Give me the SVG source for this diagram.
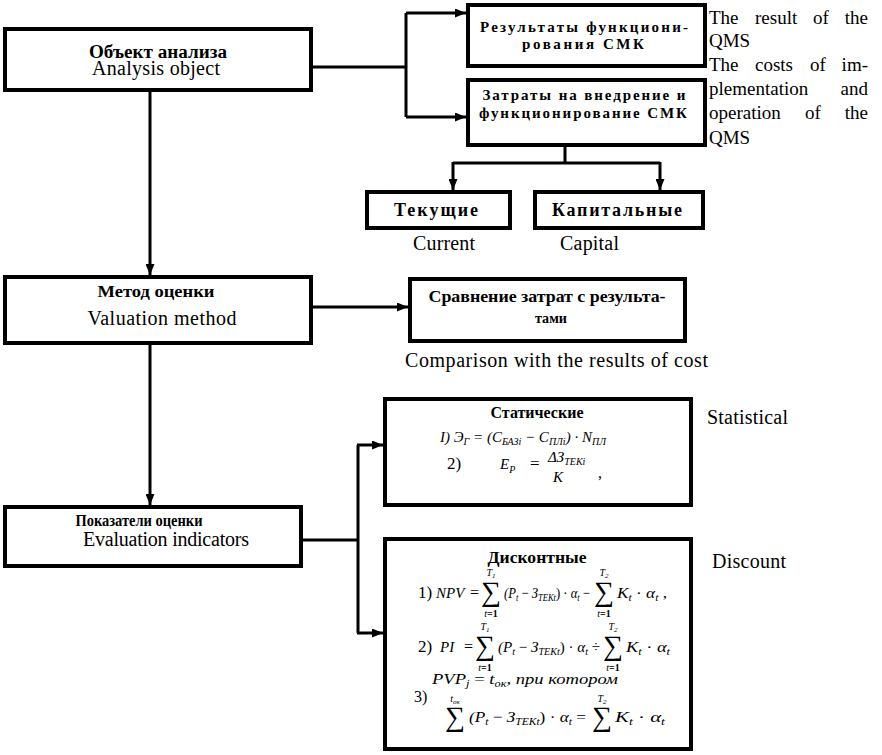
<svg xmlns="http://www.w3.org/2000/svg" width="882" height="755" viewBox="0 0 882 755">
<defs>
<marker id="ah" markerUnits="userSpaceOnUse" markerWidth="11" markerHeight="9" refX="11" refY="4.5" orient="auto"><path d="M0,0 L11,4.5 L0,9 z" fill="#000"/></marker>
</defs>
<style>
.box{fill:#fff;stroke:#000;stroke-width:4}
.ln{fill:none;stroke:#000;stroke-width:3}
.ar{fill:none;stroke:#000;stroke-width:3;marker-end:url(#ah)}
text{font-family:"Liberation Serif","Times New Roman",serif;fill:#000}
.b{font-weight:bold}
.i{font-style:italic}
.s{font-size:10px}
.en{font-size:20px}
.ann{font-size:19px}
.f{font-size:15px;font-style:italic}
.n{font-style:normal}
.sig{font-size:28px;font-style:normal}
.lim{font-size:10px;font-style:italic}
</style>
<rect width="882" height="755" fill="#fff"/>
<g id="connectors">
<path class="ln" d="M311,67 H406 M406,13 V117"/>
<path class="ar" d="M406,13 H466"/>
<path class="ar" d="M406,117 H466"/>
<path class="ln" d="M565,147 V163 M453,163 H660"/>
<path class="ar" d="M453,162 V190"/>
<path class="ar" d="M660,162 V190"/>
<path class="ar" d="M150,92 V275"/>
<path class="ar" d="M311,307 H408"/>
<path class="ar" d="M150,345 V505"/>
<path class="ln" d="M301,540 H358 M358,445 V633"/>
<path class="ar" d="M357,445 H383"/>
<path class="ar" d="M357,633 H383"/>
</g>
<g id="n-object">
<rect class="box" x="5" y="29" width="306" height="61"/>
<text class="b" x="158" y="58" text-anchor="middle" font-size="18" textLength="138" lengthAdjust="spacingAndGlyphs">Объект анализа</text>
<text class="en" x="156" y="75" text-anchor="middle" textLength="128">Analysis object</text>
</g>
<g id="n-results">
<rect class="box" x="468" y="5" width="237" height="61"/>
<text class="b" x="584" y="32" text-anchor="middle" font-size="15" textLength="208">Результаты функциони-</text>
<text class="b" x="583" y="49" text-anchor="middle" font-size="15" textLength="122">рования СМК</text>
</g>
<g id="n-costs">
<rect class="box" x="468" y="80" width="237" height="65"/>
<text class="b" x="584" y="100" text-anchor="middle" font-size="15" textLength="203">Затраты на внедрение и</text>
<text class="b" x="583" y="118" text-anchor="middle" font-size="15" textLength="208">функционирование СМК</text>
</g>
<g id="annotations">
<text class="ann" y="24"><tspan x="709">The</tspan><tspan x="755">result</tspan><tspan x="813">of</tspan><tspan x="868" text-anchor="end">the</tspan></text>
<text class="ann" x="709" y="47">QMS</text>
<text class="ann" y="71"><tspan x="709">The</tspan><tspan x="755">costs</tspan><tspan x="810">of</tspan><tspan x="868" text-anchor="end">im-</tspan></text>
<text class="ann" y="95"><tspan x="709">plementation</tspan><tspan x="868" text-anchor="end">and</tspan></text>
<text class="ann" y="119"><tspan x="709">operation</tspan><tspan x="805">of</tspan><tspan x="868" text-anchor="end">the</tspan></text>
<text class="ann" x="709" y="144">QMS</text>
<text class="en" x="413" y="250" textLength="62">Current</text>
<text class="en" x="560" y="250" textLength="59">Capital</text>
<text class="en" x="405" y="367" textLength="303">Comparison with the results of cost</text>
<text class="en" x="707" y="424" textLength="81">Statistical</text>
<text class="en" x="712" y="568" textLength="74">Discount</text>
</g>
<g id="n-current">
<rect class="box" x="367" y="192" width="143" height="36"/>
<text class="b" x="436" y="216" text-anchor="middle" font-size="18" textLength="84">Текущие</text>
</g>
<g id="n-capital">
<rect class="box" x="535" y="192" width="168" height="36"/>
<text class="b" x="617" y="216" text-anchor="middle" font-size="18" textLength="130">Капитальные</text>
</g>
<g id="n-method">
<rect class="box" x="5" y="277" width="306" height="66"/>
<text class="b" x="156" y="297" text-anchor="middle" font-size="16" textLength="117" lengthAdjust="spacingAndGlyphs">Метод оценки</text>
<text class="en" x="162" y="325" text-anchor="middle" textLength="149">Valuation method</text>
</g>
<g id="n-compare">
<rect class="box" x="410" y="279" width="275" height="62"/>
<text class="b" x="547" y="302" text-anchor="middle" font-size="16" textLength="237" lengthAdjust="spacingAndGlyphs">Сравнение затрат с результа-</text>
<text class="b" x="551" y="323" text-anchor="middle" font-size="15" textLength="32" lengthAdjust="spacingAndGlyphs">тами</text>
</g>
<g id="n-indicators">
<rect class="box" x="5" y="507" width="296" height="59"/>
<text class="b" x="139" y="526" text-anchor="middle" font-size="16" textLength="127" lengthAdjust="spacingAndGlyphs">Показатели оценки</text>
<text class="en" x="166" y="546" text-anchor="middle" textLength="166">Evaluation indicators</text>
</g>
<g id="n-static">
<rect class="box" x="385" y="399" width="306" height="106"/>
<text class="b" x="537" y="418" text-anchor="middle" font-size="16" textLength="93" lengthAdjust="spacingAndGlyphs">Статические</text>
<text class="f" x="440" y="442" font-size="16">I) Э<tspan class="s" dy="3">Г</tspan><tspan dy="-3"> = (C</tspan><tspan class="s" dy="3">БАЗi</tspan><tspan dy="-3"> − C</tspan><tspan class="s" dy="3">ПЛi</tspan><tspan dy="-3">) · N</tspan><tspan class="s" dy="3">ПЛ</tspan></text>
<text x="447" y="469" font-size="17">2)</text>
<text class="f" x="500" y="469" font-size="18">E<tspan class="s" dy="4">P</tspan></text>
<text x="530" y="469" font-size="17">=</text>
<text class="f" x="548" y="462" font-size="17">ΔЗ<tspan class="s" dy="3">ТЕКi</tspan></text>
<text class="f" x="553" y="482" font-size="17">K</text>
<text x="598" y="478" font-size="16">,</text>
</g>
<g id="n-discount">
<rect class="box" x="385" y="539" width="306" height="210"/>
<text class="b" x="537" y="563" text-anchor="middle" font-size="17" textLength="99" lengthAdjust="spacingAndGlyphs">Дисконтные</text>
<text x="418" y="598" font-size="17">1)</text>
<text class="f" x="436" y="598">NPV</text>
<text x="470" y="598" font-size="16">=</text>
<text class="sig" x="491" y="601" text-anchor="middle">∑</text>
<text class="lim" x="491" y="576" text-anchor="middle">T<tspan font-size="7" dy="2">1</tspan></text>
<text class="lim" x="491" y="617" text-anchor="middle">t<tspan class="n" font-weight="bold">=1</tspan></text>
<text class="f" x="504" y="598" textLength="86" lengthAdjust="spacingAndGlyphs">(P<tspan class="s" dy="3">t</tspan><tspan class="n" dy="-3"> − </tspan>З<tspan class="s" dy="3">ТЕКt</tspan><tspan class="n" dy="-3">) · </tspan>α<tspan class="s" dy="3">t</tspan><tspan class="n" dy="-3"> −</tspan></text>
<text class="sig" x="604" y="601" text-anchor="middle">∑</text>
<text class="lim" x="604" y="576" text-anchor="middle">T<tspan font-size="7" dy="2">2</tspan></text>
<text class="lim" x="604" y="617" text-anchor="middle">t<tspan class="n" font-weight="bold">=1</tspan></text>
<text class="f" x="617" y="598" textLength="50" lengthAdjust="spacingAndGlyphs">K<tspan class="s" dy="3">t</tspan><tspan class="n" dy="-3"> · </tspan>α<tspan class="s" dy="3">t</tspan><tspan class="n" dy="-3"> ,</tspan></text>
<text x="418" y="652" font-size="17">2)</text>
<text class="f" x="440" y="652">PI</text>
<text x="464" y="652" font-size="16">=</text>
<text class="sig" x="485" y="655" text-anchor="middle">∑</text>
<text class="lim" x="485" y="630" text-anchor="middle">T<tspan font-size="7" dy="2">1</tspan></text>
<text class="lim" x="485" y="671" text-anchor="middle">t<tspan class="n" font-weight="bold">=1</tspan></text>
<text class="f" x="498" y="652" textLength="102" lengthAdjust="spacingAndGlyphs">(P<tspan class="s" dy="3">t</tspan><tspan class="n" dy="-3"> − </tspan>З<tspan class="s" dy="3">ТЕКt</tspan><tspan class="n" dy="-3">) · </tspan>α<tspan class="s" dy="3">t</tspan><tspan class="n" dy="-3"> ÷</tspan></text>
<text class="sig" x="613" y="655" text-anchor="middle">∑</text>
<text class="lim" x="613" y="630" text-anchor="middle">T<tspan font-size="7" dy="2">2</tspan></text>
<text class="lim" x="613" y="671" text-anchor="middle">t<tspan class="n" font-weight="bold">=1</tspan></text>
<text class="f" x="626" y="652" textLength="44" lengthAdjust="spacingAndGlyphs">K<tspan class="s" dy="3">t</tspan><tspan class="n" dy="-3"> · </tspan>α<tspan class="s" dy="3">t</tspan></text>
<text class="f" x="432" y="684" font-size="16" textLength="186" lengthAdjust="spacingAndGlyphs">PVP<tspan class="s" dy="3">j</tspan><tspan class="n" dy="-3"> = </tspan>t<tspan class="s" dy="3">ок</tspan><tspan dy="-3">, при котором</tspan></text>
<text x="414" y="702" font-size="16">3)</text>
<text class="sig" x="455" y="726" text-anchor="middle">∑</text>
<text class="lim" x="455" y="702" text-anchor="middle">t<tspan font-size="7" dy="2">ок</tspan></text>
<text class="f" x="469" y="722" textLength="117" lengthAdjust="spacingAndGlyphs">(P<tspan class="s" dy="3">t</tspan><tspan class="n" dy="-3"> − </tspan>З<tspan class="s" dy="3">ТЕКt</tspan><tspan class="n" dy="-3">) · </tspan>α<tspan class="s" dy="3">t</tspan><tspan class="n" dy="-3"> =</tspan></text>
<text class="sig" x="602" y="726" text-anchor="middle">∑</text>
<text class="lim" x="602" y="702" text-anchor="middle">T<tspan font-size="7" dy="2">2</tspan></text>
<text class="f" x="615" y="722" textLength="50" lengthAdjust="spacingAndGlyphs">K<tspan class="s" dy="3">t</tspan><tspan class="n" dy="-3"> · </tspan>α<tspan class="s" dy="3">t</tspan></text>
</g>
</svg>
